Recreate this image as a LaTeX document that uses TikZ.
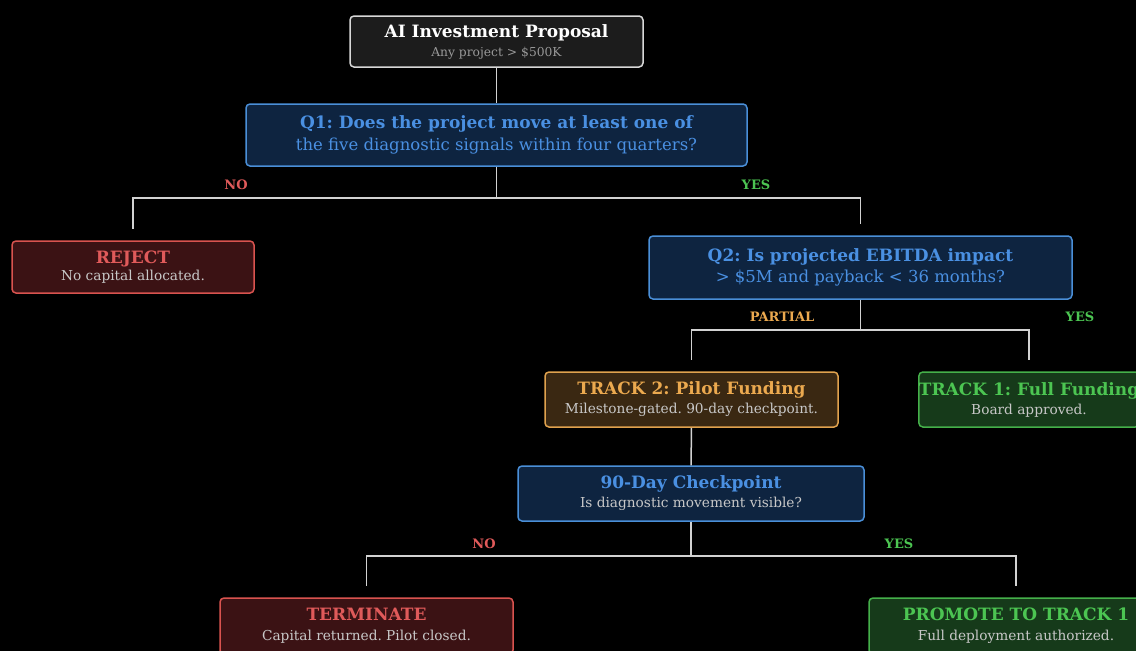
\documentclass[tikz,border=0pt]{standalone}
\usepackage{fontspec}
\setmainfont{DejaVu Serif}
\usepackage{xcolor}
\usetikzlibrary{positioning}

\definecolor{linkgray}{HTML}{D2D2D2}
\definecolor{neutralfill}{HTML}{1C1C1C}
\definecolor{neutraldraw}{HTML}{D8D8D8}
\definecolor{subgray}{HTML}{C8C8C8}
\definecolor{qfill}{HTML}{0E2440}
\definecolor{qdraw}{HTML}{4A8FD8}
\definecolor{qtext}{HTML}{4A90E2}
\definecolor{rfill}{HTML}{3B1214}
\definecolor{rdraw}{HTML}{D9534F}
\definecolor{rtext}{HTML}{E05A5A}
\definecolor{ofill}{HTML}{3A2812}
\definecolor{odraw}{HTML}{E0A24E}
\definecolor{otext}{HTML}{EBA94F}
\definecolor{gfill}{HTML}{163A1A}
\definecolor{gdraw}{HTML}{45B04A}
\definecolor{gtext}{HTML}{4CC552}

\newcommand{\boxtitle}{\bfseries\fontsize{17}{19}\selectfont}
\newcommand{\qsub}{\fontsize{16.5}{19}\selectfont}
\frenchspacing

\begin{document}
\begin{tikzpicture}[
    x=1pt,y=-1pt,
    box/.style={draw, rounded corners=4pt, line width=1.5pt, align=center,
                inner sep=0pt, font=\fontsize{13.7}{16}\selectfont},
    neutral/.style={box, fill=neutralfill, draw=neutraldraw, text=subgray},
    question/.style={box, fill=qfill, draw=qdraw, text=qtext},
    rejectbox/.style={box, fill=rfill, draw=rdraw, text=subgray},
    pilotbox/.style={box, fill=ofill, draw=odraw, text=subgray},
    fullbox/.style={box, fill=gfill, draw=gdraw, text=subgray},
    branch/.style={font=\bfseries\fontsize{13}{15}\selectfont},
    link/.style={draw=linkgray, line width=1.5pt},
    fork/.style={link, shorten >=11pt}
]
\fill[black] (0,0) rectangle (1136,651);
\useasboundingbox (0,0) rectangle (1136,651);

% Decision tree
\node[neutral, minimum width=293pt, minimum height=51pt] (proposal) at (496.5,41.5)
  {{\boxtitle\color{white} AI Investment Proposal}\\[3pt]
   {\fontsize{12.3}{14}\selectfont\color{gray!80!white} Any project > \$500K}};
\node[question, minimum width=501pt, minimum height=62pt] (qone) at (496.5,135)
  {{\boxtitle Q1: Does the project move at least one of}\\[4pt]
   {\qsub the five diagnostic signals within four quarters?}};
\node[rejectbox, minimum width=242pt, minimum height=52pt] (reject) at (133,267)
  {{\boxtitle\color{rtext} REJECT}\\[1pt]
   No capital allocated.};
\node[question, minimum width=423pt, minimum height=63pt] (qtwo) at (860.5,267.5)
  {{\boxtitle Q2: Is projected EBITDA impact}\\[4pt]
   {\qsub > \$5M and payback < 36 months?}};
\node[pilotbox, minimum width=293pt, minimum height=55pt] (pilot) at (691.5,399.5)
  {{\boxtitle\color{otext} TRACK 2: Pilot Funding}\\[3pt]
   Milestone-gated. 90-day checkpoint.};
\node[fullbox, minimum width=216pt, minimum height=55pt] (full) at (1029,399.5)
  {{\boxtitle\color{gtext} TRACK 1: Full Funding}\\[3pt]
   Board approved.};
\node[question, minimum width=346pt, minimum height=55pt] (check) at (691,493.5)
  {{\boxtitle 90-Day Checkpoint}\\[3pt]
   {\color{subgray}Is diagnostic movement visible?}};
\node[rejectbox, minimum width=293pt, minimum height=56pt] (terminate) at (366.5,626)
  {{\boxtitle\color{rtext} TERMINATE}\\[4pt]
   Capital returned. Pilot closed.};
\node[fullbox, minimum width=294pt, minimum height=56pt] (promote) at (1016,626)
  {{\boxtitle\color{gtext} PROMOTE TO TRACK 1}\\[4pt]
   Full deployment authorized.};

% Connectors
\draw[link] (proposal) -- (qone);
\draw[fork] (qone.south) -- ++(0,31) -| (reject.north);
\draw[fork] (qone.south) -- ++(0,31) -| (qtwo.north);
\draw[fork] (qtwo.south) -- ++(0,30) -| (pilot.north);
\draw[fork] (qtwo.south) -- ++(0,30) -| (full.north);
\draw[link] (pilot) -- (check);
\draw[fork] (check.south) -- ++(0,34) -| (terminate.north);
\draw[fork] (check.south) -- ++(0,34) -| (promote.north);

% Branch labels
\node[branch, text=rtext] (noone) at (236,185) {NO};
\node[branch, text=gtext] (yesone) at (756,185) {YES};
\node[branch, text=otext] (partial) at (782,317) {PARTIAL};
\node[branch, text=gtext] (yestwo) at (1080,317) {YES};
\node[branch, text=rtext] (nothree) at (484,544) {NO};
\node[branch, text=gtext] (yesthree) at (899,544) {YES};
\end{tikzpicture}
\end{document}
